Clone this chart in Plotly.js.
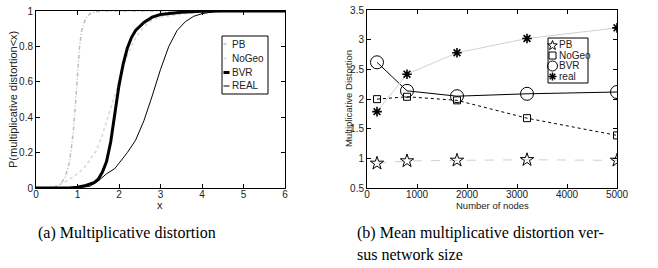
<!DOCTYPE html>
<html><head><meta charset="utf-8">
<script src="https://cdn.plot.ly/plotly-3.0.1.min.js"></script>
<style>html,body{margin:0;padding:0;background:#fff}#chart{width:658px;height:268px}</style>
</head><body><div id="chart"></div>
<script>
// Left panel: CDF of multiplicative distortion
const pbX    = [0, 0.3, 0.5, 0.6, 0.7, 0.8, 0.85, 0.9, 0.95, 1.0, 1.05, 1.1, 1.2, 1.3, 1.4, 1.6, 6];
const pbY    = [0, 0.002, 0.01, 0.025, 0.06, 0.14, 0.22, 0.32, 0.47, 0.66, 0.8, 0.89, 0.96, 0.985, 0.995, 1, 1];
const noGeoX = [0, 0.3, 0.5, 0.75, 1.0, 1.15, 1.3, 1.45, 1.6, 1.8, 2.0, 2.1, 2.2, 2.4, 2.6, 2.8, 3.0, 3.5, 4.0, 4.5, 6];
const noGeoY = [0, 0.001, 0.01, 0.04, 0.08, 0.11, 0.16, 0.21, 0.3, 0.45, 0.6, 0.68, 0.75, 0.85, 0.91, 0.95, 0.965, 0.982, 0.995, 1, 1];
const bvrX   = [0, 0.8, 1.0, 1.2, 1.4, 1.5, 1.6, 1.7, 1.8, 1.9, 2.0, 2.1, 2.2, 2.3, 2.4, 2.6, 2.8, 3.0, 3.5, 4.0, 4.5, 6];
const bvrY   = [0, 0, 0.005, 0.015, 0.03, 0.05, 0.09, 0.15, 0.26, 0.42, 0.58, 0.7, 0.79, 0.85, 0.89, 0.935, 0.965, 0.98, 0.993, 0.998, 1, 1];
const realX  = [0, 1.0, 1.3, 1.5, 1.7, 1.9, 2.0, 2.2, 2.4, 2.6, 2.8, 3.0, 3.2, 3.4, 3.6, 3.8, 4.0, 4.3, 4.6, 6];
const realY  = [0, 0, 0.01, 0.04, 0.08, 0.11, 0.14, 0.2, 0.27, 0.38, 0.52, 0.67, 0.8, 0.89, 0.94, 0.97, 0.985, 0.996, 1, 1];
const cdfNames = ['PB', 'NoGeo', 'BVR', 'REAL'];

// Right panel: mean multiplicative distortion vs network size
const nodes     = [200, 800, 1800, 3200, 5000];
const meanPB    = [0.92, 0.96, 0.97, 0.98, 0.97];
const meanNoGeo = [2.0, 2.04, 1.98, 1.68, 1.39];
const meanBVR   = [2.62, 2.14, 2.05, 2.09, 2.12];
const meanReal  = [1.79, 2.42, 2.78, 3.02, 3.2];
const meanNames = ['PB', 'NoGeo', 'BVR', 'real'];

const W = 658, H = 268;
const px = v => v / W, py = v => 1 - v / H;
const sans = 'Liberation Sans, Arial, sans-serif';
const serif = 'Liberation Serif, Times New Roman, serif';

const cdfStyles = [
  {color: '#bdbdbd', width: 1.5, dash: '4px,2px,1px,2px'},
  {color: '#d6d6d6', width: 1.5, dash: 'dot'},
  {color: '#000', width: 3},
  {color: '#000', width: 1}
];
const cdfData = [[pbX, pbY], [noGeoX, noGeoY], [bvrX, bvrY], [realX, realY]];
const traces = cdfData.map((d, i) => ({x: d[0], y: d[1], name: cdfNames[i], mode: 'lines', line: cdfStyles[i],
  xaxis: 'x', yaxis: 'y', showlegend: false}));

const meanStyles = [
  {line: {color: '#cfcfcf', width: 1, dash: 'dash'}, marker: {symbol: 'star-open', size: 10}},
  {line: {color: '#000', width: 1, dash: 'dot'}, marker: {symbol: 'square-open', size: 7}},
  {line: {color: '#000', width: 1}, marker: {symbol: 'circle-open', size: 13}},
  {line: {color: '#d0d0d0', width: 1}, marker: {symbol: 'asterisk-open', size: 8}}
];
const meanData = [meanPB, meanNoGeo, meanBVR, meanReal];
meanData.forEach((ys, i) => {
  traces.push({x: nodes, y: ys, name: meanNames[i], mode: 'lines+markers', line: meanStyles[i].line,
    marker: {symbol: meanStyles[i].marker.symbol, size: meanStyles[i].marker.size, color: '#000',
      line: {width: i === 3 ? 1.6 : 1, color: '#000'}},
    xaxis: 'x2', yaxis: 'y2', showlegend: false});
});

const tickFont = {family: sans, size: 10, color: '#222'};
const axisBase = {showline: true, linecolor: '#000', linewidth: 1, mirror: 'ticks', ticks: 'inside', ticklen: 4,
  tickcolor: '#000', showgrid: false, zeroline: false, tickfont: tickFont};

const shapes = [];
const annotations = [];

// Left legend (compact, like the original)
shapes.push({type: 'rect', xref: 'paper', yref: 'paper', x0: px(222), x1: px(268), y0: py(94), y1: py(36),
  line: {color: '#000', width: 1}, fillcolor: '#fff', layer: 'above'});
const legY1 = [44, 58.5, 72.5, 86];
cdfNames.forEach((n, i) => {
  shapes.push({type: 'line', xref: 'paper', yref: 'paper', x0: px(223.5), x1: px(229.5), y0: py(legY1[i]), y1: py(legY1[i]),
    line: {color: cdfStyles[i].color, width: cdfStyles[i].width, dash: i < 2 ? 'dot' : 'solid'}, layer: 'above'});
  annotations.push({text: n, xref: 'paper', yref: 'paper', x: px(229.5), xanchor: 'left', y: py(legY1[i]), yanchor: 'middle',
    showarrow: false, font: {family: sans, size: 10, color: '#222'}});
});

// Right legend: box, marker icons drawn as shapes, labels
shapes.push({type: 'rect', xref: 'paper', yref: 'paper', x0: px(548), x1: px(588), y0: py(83), y1: py(38),
  line: {color: '#000', width: 1}, fillcolor: '#fff', layer: 'above'});
const legY2 = [45, 55.5, 66, 76.5];
const mx = 552.5;
function starPath(cx, cy, ro, ri) {
  let d = '';
  for (let k = 0; k < 10; k++) {
    const r = k % 2 === 0 ? ro : ri;
    const a = -Math.PI / 2 + k * Math.PI / 5;
    d += (k === 0 ? 'M' : 'L') + px(cx + r * Math.cos(a)).toFixed(5) + ',' + py(cy + r * Math.sin(a)).toFixed(5);
  }
  return d + 'Z';
}
const iconLine = {color: '#000', width: 1};
shapes.push({type: 'path', xref: 'paper', yref: 'paper', path: starPath(mx, legY2[0] + 0.5, 5, 2.1), line: iconLine, layer: 'above'});
shapes.push({type: 'rect', xref: 'paper', yref: 'paper', x0: px(mx - 3.5), x1: px(mx + 3.5), y0: py(legY2[1] + 3.5), y1: py(legY2[1] - 3.5), line: iconLine, layer: 'above'});
shapes.push({type: 'circle', xref: 'paper', yref: 'paper', x0: px(mx - 5), x1: px(mx + 5), y0: py(legY2[2] + 5), y1: py(legY2[2] - 5), line: iconLine, layer: 'above'});
[[4, 0], [0, 4], [2.8, 2.8], [2.8, -2.8]].forEach(v => {
  shapes.push({type: 'line', xref: 'paper', yref: 'paper', x0: px(mx - v[0]), x1: px(mx + v[0]), y0: py(legY2[3] - v[1]), y1: py(legY2[3] + v[1]),
    line: {color: '#000', width: 1.5}, layer: 'above'});
});
meanNames.forEach((n, i) => {
  annotations.push({text: n, xref: 'paper', yref: 'paper', x: px(557), xanchor: 'left', y: py(legY2[i]), yanchor: 'middle',
    showarrow: false, font: {family: sans, size: 10, color: '#222'}});
});

// Axis titles
annotations.push({text: 'x', xref: 'paper', yref: 'paper', x: px(160), xanchor: 'center', y: py(205), yanchor: 'middle',
  showarrow: false, font: {family: sans, size: 11, color: '#222'}});
annotations.push({text: 'P(multiplicative distortion<x)', xref: 'paper', yref: 'paper', x: px(13), xanchor: 'center', y: py(100), yanchor: 'middle',
  textangle: -90, showarrow: false, font: {family: sans, size: 11, color: '#222'}});
annotations.push({text: 'Number of nodes', xref: 'paper', yref: 'paper', x: px(492), xanchor: 'center', y: py(205), yanchor: 'middle',
  showarrow: false, font: {family: sans, size: 9.5, color: '#222'}});
annotations.push({text: 'Multiplicative Distortion', xref: 'paper', yref: 'paper', x: px(348), xanchor: 'center', y: py(99), yanchor: 'middle',
  textangle: -90, showarrow: false, font: {family: sans, size: 9.5, color: '#222'}});

// Captions
annotations.push({text: '(a) Multiplicative distortion', xref: 'paper', yref: 'paper', x: px(36), xanchor: 'left', y: py(233), yanchor: 'middle',
  showarrow: false, font: {family: serif, size: 16, color: '#000'}});
annotations.push({text: '(b) Mean multiplicative distortion ver-', xref: 'paper', yref: 'paper', x: px(355), xanchor: 'left', y: py(233), yanchor: 'middle',
  showarrow: false, font: {family: serif, size: 16, color: '#000'}});
annotations.push({text: 'sus network size', xref: 'paper', yref: 'paper', x: px(355), xanchor: 'left', y: py(254), yanchor: 'middle',
  showarrow: false, font: {family: serif, size: 16, color: '#000'}});

const layout = {
  width: W, height: H, margin: {l: 0, r: 0, t: 0, b: 0},
  paper_bgcolor: '#fff', plot_bgcolor: '#fff', showlegend: false,
  xaxis: Object.assign({}, axisBase, {domain: [px(36), px(285)], range: [0, 6], dtick: 1, anchor: 'y', ticklabelstandoff: -3}),
  yaxis: Object.assign({}, axisBase, {domain: [py(188), py(11)], range: [0, 1], dtick: 0.2, anchor: 'x'}),
  xaxis2: Object.assign({}, axisBase, {domain: [px(367), px(617)], range: [0, 5000], dtick: 1000, anchor: 'y2', ticklabelstandoff: -3}),
  yaxis2: Object.assign({}, axisBase, {domain: [py(188.3), py(10)], range: [0.5, 3.5], dtick: 0.5, anchor: 'x2'}),
  shapes: shapes,
  annotations: annotations
};

Plotly.newPlot('chart', traces, layout, {staticPlot: true, displayModeBar: false});
</script></body></html>
